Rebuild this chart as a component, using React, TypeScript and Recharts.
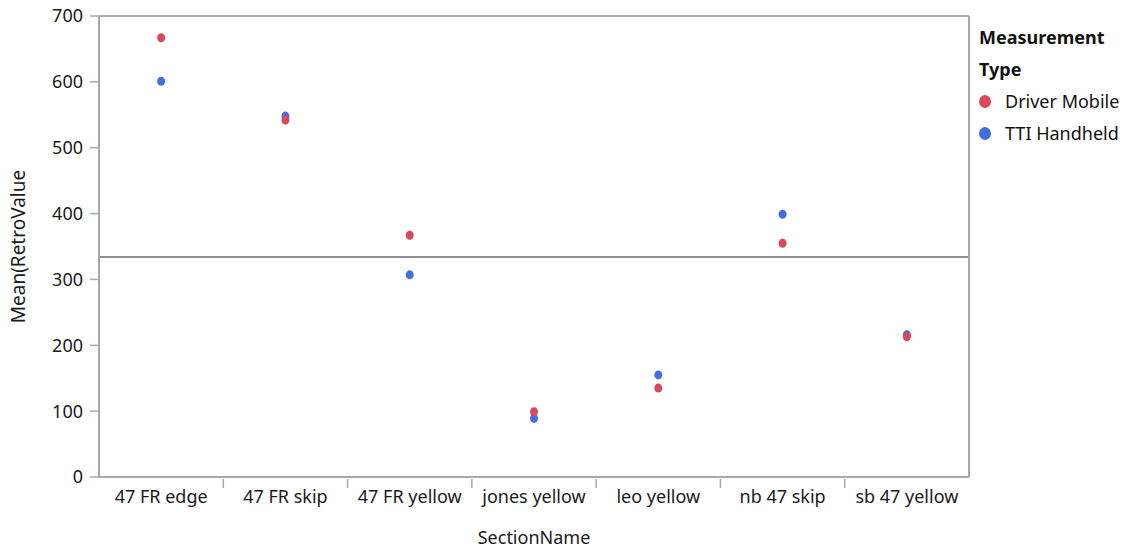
import React from 'react';
import { ComposedChart, Line, XAxis, YAxis, ReferenceLine } from 'recharts';

const categories = ['47 FR edge', '47 FR skip', '47 FR yellow', 'jones yellow', 'leo yellow', 'nb 47 skip', 'sb 47 yellow'];
const driverMobile = [667, 542, 367, 99, 135, 355, 213];
const ttiHandheld = [601, 548, 307, 89, 155, 399, 216];
const yTicks = [0, 100, 200, 300, 400, 500, 600, 700];
const overallMean = 334;
const seriesNames = ['Driver Mobile', 'TTI Handheld'];
const legendTitle = ['Measurement', 'Type'];

const RED = '#D9495A';
const BLUE = '#416FE0';
const AXIS = '#A8A8A8';
const TEXT = '#1a1a1a';
const FONT = '"Noto Sans", "Open Sans", sans-serif';

const data = categories.map((name, i) => ({ name, driver: driverMobile[i], tti: ttiHandheld[i] }));

const Dot = (color: string) => (props: any) => {
  const { cx, cy } = props;
  if (cx == null || cy == null) return null;
  return <ellipse key={`${color}-${cx}-${cy}`} cx={cx} cy={cy} rx={4} ry={4.5} fill={color} stroke="none" />;
};

const CatTick = (props: any) => {
  const { x, y, payload, index } = props;
  const half = payload?.offset ?? 0;
  return (
    <g>
      {index > 0 && <line x1={x - half} x2={x - half} y1={y - 6} y2={y + 3} stroke={AXIS} strokeWidth={1.5} />}
      <text x={x} y={y + 5} dy="0.71em" textAnchor="middle" fontSize={18} fill={TEXT} fontFamily={FONT}>
        {payload.value}
      </text>
    </g>
  );
};

export default function App() {
  return (
    <div style={{ position: 'absolute', left: 0, top: 0, width: 1123, height: 550, background: '#fff', fontFamily: FONT }}>
      <ComposedChart width={1123} height={550} data={data} margin={{ top: 15, right: 153, bottom: 0, left: 0 }}>
        <XAxis
          dataKey="name"
          type="category"
          scale="band"
          tickLine={false}
          tickSize={6}
          axisLine={{ stroke: AXIS, strokeWidth: 2 }}
          tick={<CatTick />}
          height={73}
          interval={0}
          label={{ value: 'SectionName', position: 'insideBottom', offset: 6, fontSize: 18, fill: TEXT, fontFamily: FONT }}
        />
        <XAxis xAxisId="top" orientation="top" type="number" domain={[0, 7]} tick={false} tickLine={false} axisLine={{ stroke: AXIS, strokeWidth: 2 }} height={1} />
        <YAxis
          domain={[0, 700]}
          ticks={yTicks}
          width={99}
          tickSize={9}
          tickMargin={7}
          axisLine={{ stroke: AXIS, strokeWidth: 2 }}
          tickLine={{ stroke: AXIS, strokeWidth: 1.5 }}
          tick={{ fontSize: 18, fill: TEXT, fontFamily: FONT }}
          label={{ value: 'Mean(RetroValue', angle: -90, position: 'insideLeft', offset: 18, fontSize: 19, fill: TEXT, fontFamily: FONT, style: { textAnchor: 'middle' } }}
        />
        <YAxis yAxisId="frame" orientation="right" domain={[0, 700]} width={1} tick={false} tickLine={false} axisLine={{ stroke: AXIS, strokeWidth: 2 }} />
        <ReferenceLine y={overallMean} stroke="#8f8f8f" strokeWidth={2} />
        <Line dataKey="tti" name={seriesNames[1]} stroke="none" dot={Dot(BLUE)} activeDot={false} isAnimationActive={false} />
        <Line dataKey="driver" name={seriesNames[0]} stroke="none" dot={Dot(RED)} activeDot={false} isAnimationActive={false} />
      </ComposedChart>
      <div style={{ position: 'absolute', left: 979, top: 21, fontSize: 18, color: '#111', lineHeight: '32px' }}>
        {legendTitle.map((t) => (
          <div key={t} style={{ fontWeight: 700 }}>{t}</div>
        ))}
        {seriesNames.map((s, i) => (
          <div key={s} style={{ display: 'flex', alignItems: 'center' }}>
            <span style={{ display: 'inline-block', width: 12, height: 13, borderRadius: '50%', background: i === 0 ? RED : BLUE, marginRight: 14 }} />
            <span>{s}</span>
          </div>
        ))}
      </div>
    </div>
  );
}
